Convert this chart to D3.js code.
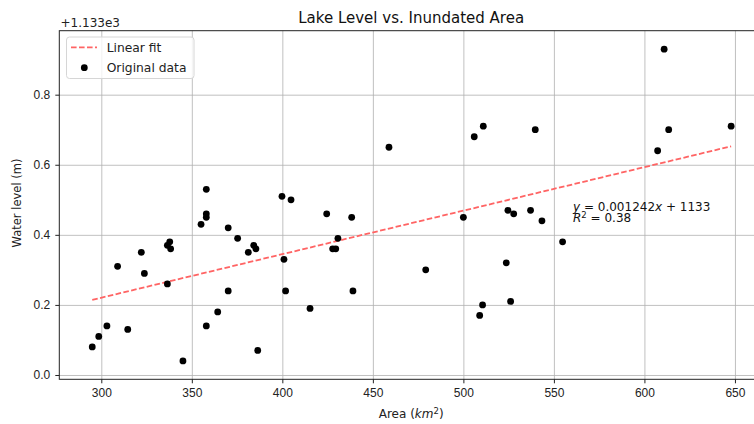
<!DOCTYPE html>
<html>
<head>
<meta charset="utf-8">
<script src="https://cdn.jsdelivr.net/npm/d3@7"></script>
<style>
  body { margin: 0; background: #fff; overflow: hidden; }
  svg { display: block; font-family: "DejaVu Sans", sans-serif; }
  .grid line { stroke: #b0b0b0; stroke-width: 0.8; }
  .grid path { display: none; }
  .axis text { font-size: 12px; fill: #222; }
  .axis line { stroke: #222; }
  .axis path { display: none; }
</style>
</head>
<body>
<div id="chart-area"><svg></svg></div>
<script>
// lake area (km^2) and water level (m, offset from 1133)
const areas = [295.0, 298.6, 303.1, 309.0, 314.6, 322.1, 323.8, 336.5, 336.5, 337.8,
    338.3, 345.1, 355.1, 358.0, 358.0, 358.0, 358.0, 364.3, 370.1, 370.1,
    375.3, 381.2, 384.2, 385.4, 386.4, 399.8, 404.8, 400.9, 401.8, 415.3,
    424.5, 430.7, 427.8, 429.5, 438.3, 439.0, 458.9, 479.2, 500.0, 506.0,
    509.0, 510.6, 511.0, 523.7, 524.6, 526.1, 527.8, 537.1, 539.7, 543.4,
    554.8, 607.3, 610.9, 613.4, 647.9];
const levels = [0.08, 0.11, 0.14, 0.31, 0.13, 0.35, 0.29, 0.26, 0.37, 0.38,
    0.36, 0.04, 0.43, 0.53, 0.46, 0.45, 0.14, 0.18, 0.42, 0.24,
    0.39, 0.35, 0.37, 0.36, 0.07, 0.51, 0.50, 0.33, 0.24, 0.19,
    0.46, 0.39, 0.36, 0.36, 0.45, 0.24, 0.65, 0.30, 0.45, 0.68,
    0.17, 0.20, 0.71, 0.32, 0.47, 0.21, 0.46, 0.47, 0.70, 0.44,
    0.38, 0.64, 0.93, 0.70, 0.71];
const levelOffset = 1133;
const fitSlope = 0.001242;
const fitIntercept = -0.152; // relative to levelOffset
const rSquared = 0.38;

const xTicks = [300, 350, 400, 450, 500, 550, 600, 650];
const yTicks = [0.0, 0.2, 0.4, 0.6, 0.8];
const xDomain = [276.8, 665.5];
const yDomain = [-0.0123, 0.9826];

const chartSize = { width: 754, height: 424 };
const margin = { left: 59.3, right: -9, top: 30.7, bottom: 44.7 };
const width = chartSize.width - margin.left - margin.right;
const height = chartSize.height - margin.top - margin.bottom;

const svg = d3.select('#chart-area svg')
    .attr('width', chartSize.width)
    .attr('height', chartSize.height);

const x = d3.scaleLinear().domain(xDomain).range([0, width]);
const y = d3.scaleLinear().domain(yDomain).range([height, 0]);

const g = svg.append('g')
    .attr('transform', `translate(${margin.left},${margin.top})`);

// grid
g.append('g').attr('class', 'grid')
    .attr('transform', `translate(0,${height})`)
    .call(d3.axisBottom(x).tickValues(xTicks).tickSize(-height).tickFormat(''));
g.append('g').attr('class', 'grid')
    .call(d3.axisLeft(y).tickValues(yTicks).tickSize(-width).tickFormat(''));

// fit line
const fitXs = [d3.min(areas), d3.max(areas)];
const fitLine = d3.line().x(d => x(d)).y(d => y(fitSlope * d + fitIntercept));
g.append('path')
    .attr('d', fitLine(fitXs))
    .attr('fill', 'none')
    .attr('stroke', '#ff6464')
    .attr('stroke-width', 1.8)
    .attr('stroke-dasharray', '5.6,2.4');

// points
g.selectAll('.dot')
    .data(areas)
    .enter()
    .append('circle')
    .attr('class', 'dot')
    .attr('cx', d => x(d))
    .attr('cy', (d, i) => y(levels[i]))
    .attr('r', 3.4)
    .attr('fill', '#000');

// frame
g.append('rect')
    .attr('width', width).attr('height', height)
    .attr('fill', 'none').attr('stroke', '#222').attr('stroke-width', 1);

// axes
g.append('g').attr('class', 'axis')
    .attr('transform', `translate(0,${height})`)
    .call(d3.axisBottom(x).tickValues(xTicks).tickSize(4).tickPadding(5).tickFormat(d3.format('d')));
g.append('g').attr('class', 'axis')
    .call(d3.axisLeft(y).tickValues(yTicks).tickSize(4).tickPadding(5).tickFormat(d3.format('.1f')));

// offset text
svg.append('text')
    .attr('x', 60.5).attr('y', 26.7)
    .attr('font-size', 12).attr('fill', '#222')
    .text(`+${(levelOffset / 1000).toFixed(3)}e3`);

// title
svg.append('text')
    .attr('x', margin.left + (763 - margin.left) / 2).attr('y', 23.3)
    .attr('text-anchor', 'middle')
    .attr('font-size', 15).attr('fill', '#111')
    .text('Lake Level vs. Inundated Area');

// axis labels
const xl = svg.append('text')
    .attr('x', margin.left + (763 - margin.left) / 2).attr('y', 418)
    .attr('text-anchor', 'middle')
    .attr('font-size', 12).attr('fill', '#222');
xl.append('tspan').text('Area (');
xl.append('tspan').attr('font-style', 'italic').text('km');
xl.append('tspan').attr('font-size', 8.5).attr('dy', -4.5).text('2');
xl.append('tspan').attr('dy', 4.5).text(')');

svg.append('text')
    .attr('transform', `translate(21,${margin.top + height / 2 - 2}) rotate(-90)`)
    .attr('text-anchor', 'middle')
    .attr('font-size', 11.5).attr('fill', '#222')
    .text('Water level (m)');

// equation
const eq = g.append('text')
    .attr('x', 573 - margin.left).attr('y', 211 - margin.top)
    .attr('font-size', 12).attr('fill', '#111');
eq.append('tspan').attr('font-style', 'italic').text('y');
eq.append('tspan').text(` = ${fitSlope.toFixed(6)}`);
eq.append('tspan').attr('font-style', 'italic').text('x');
eq.append('tspan').text(` + ${levelOffset}`);

const r2 = g.append('text')
    .attr('x', 573 - margin.left).attr('y', 222.5 - margin.top)
    .attr('font-size', 12).attr('fill', '#111');
r2.append('tspan').attr('font-style', 'italic').text('R');
r2.append('tspan').attr('font-size', 8.5).attr('dy', -4.5).text('2');
r2.append('tspan').attr('dy', 4.5).text(` = ${rSquared.toFixed(2)}`);

// legend
const legend = svg.append('g').attr('transform', 'translate(66.5,37)');
legend.append('rect')
    .attr('width', 127.5).attr('height', 41.5).attr('rx', 3)
    .attr('fill', '#fff').attr('fill-opacity', 0.8)
    .attr('stroke', '#d6d6d6');
legend.append('line')
    .attr('x1', 4.5).attr('x2', 30.5).attr('y1', 10.3).attr('y2', 10.3)
    .attr('stroke', '#ff6464').attr('stroke-width', 1.8)
    .attr('stroke-dasharray', '5.6,2.4');
legend.append('circle')
    .attr('cx', 17.8).attr('cy', 30.7).attr('r', 3.4).attr('fill', '#000');
legend.append('text').attr('x', 40.2).attr('y', 15)
    .attr('font-size', 12.3).attr('fill', '#222').text('Linear fit');
legend.append('text').attr('x', 40.2).attr('y', 34.5)
    .attr('font-size', 12.3).attr('fill', '#222').text('Original data');
</script>
</body>
</html>
